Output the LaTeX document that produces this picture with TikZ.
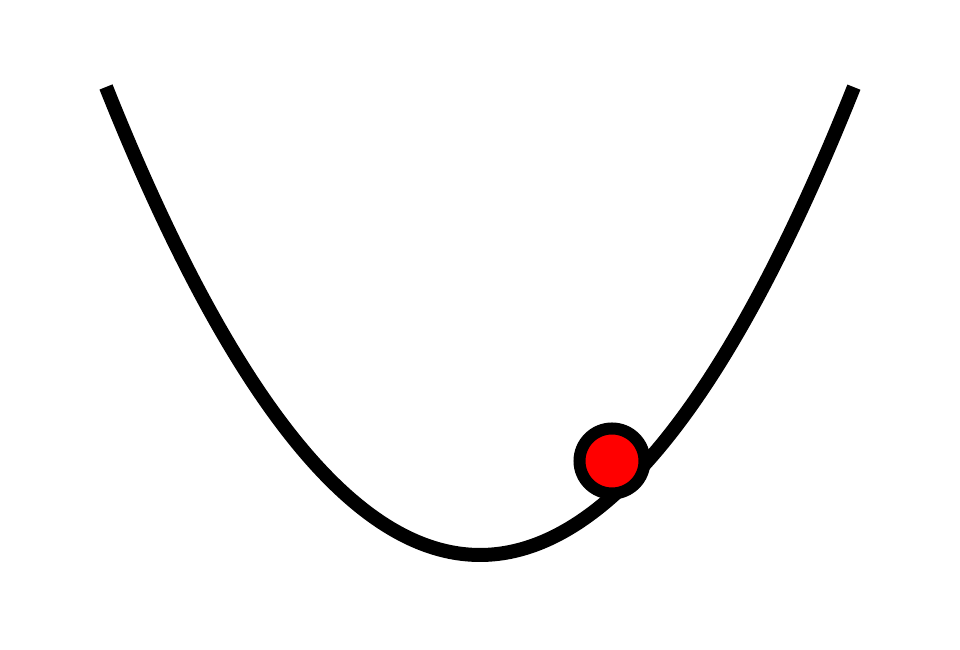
\documentclass[tikz,border=0pt]{standalone}
\usepackage{tikz}
\usetikzlibrary{positioning,calc}
\tikzset{
  valley/.style={line width=0.14cm,color=black},
  ball/.style={circle,draw=black,fill=red,line width=0.12cm,
               minimum size=0.65cm,inner sep=0pt},
}

\begin{document}
\begin{tikzpicture}
        \useasboundingbox (0,0) rectangle (9.6,6.5);

        % ── Valley
        \coordinate (vtx) at (4.80,0.95);
        \draw[valley] plot[domain=-3.74:3.74,samples=120,smooth]
          ({4.80+\x},{0.95+0.3346*\x*\x});

        % ── Ball
        \node[ball] (rock) at (6.12,1.89) {};
\end{tikzpicture}
\end{document}
